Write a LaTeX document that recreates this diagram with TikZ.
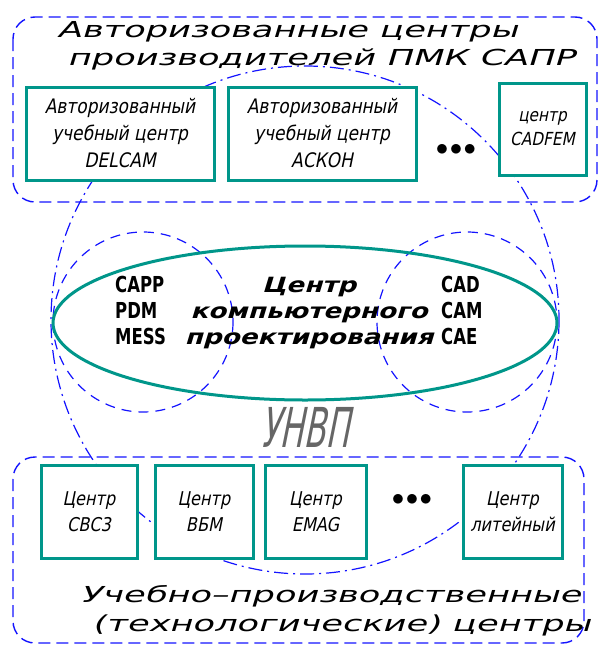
\documentclass[tikz,border=0pt]{standalone}
\usepackage{fontspec}
\newfontfamily\gosttitle[FakeSlant=0.3,FakeStretch=1.6]{DejaVu Sans}
\newfontfamily\gostbox[FakeSlant=0.2,FakeStretch=0.85]{DejaVu Sans}
\newfontfamily\gostbold[FakeStretch=0.75]{DejaVu Sans}
\newfontfamily\gostcentre[FakeSlant=0.3,FakeStretch=1.25]{DejaVu Sans}
\newfontfamily\gostgray[FakeSlant=0.2,FakeStretch=0.58]{DejaVu Sans}
\usetikzlibrary{positioning}

\definecolor{boxteal}{RGB}{0,150,138}
\definecolor{dashblue}{RGB}{20,20,255}

\tikzset{
  centrebox/.style={draw=boxteal,line width=3pt,fill=white,inner sep=0pt,align=center,
    font=\gostbox\fontsize{20}{27}\selectfont},
  groupframe/.style={draw=dashblue,line width=1.4pt,dash pattern=on 12pt off 6pt,rounded corners=22pt},
  zonecircle/.style={draw=dashblue,line width=1.2pt,dash pattern=on 10pt off 7pt},
  unvpcircle/.style={draw=dashblue,line width=1.2pt,dash pattern=on 14pt off 5pt on 2pt off 5pt},
  titletext/.style={font=\gosttitle\fontsize{22}{27}\selectfont,inner sep=0pt,anchor=base west},
  systext/.style={font=\gostbold\bfseries\fontsize{22}{26}\selectfont,inner sep=0pt,anchor=base west,align=left},
}

\begin{document}
\begin{tikzpicture}[x=1pt,y=-1pt]
\useasboundingbox (0,0) rectangle (599,645);

% frames of the two groups
\draw[groupframe] (13,17) rectangle (597,202);
\draw[groupframe] (13,457) rectangle (584,643);

% zones
\draw[unvpcircle] (305,320) circle [radius=254];
\draw[zonecircle] (143,322) circle [radius=90];
\draw[zonecircle] (467,322) circle [radius=90];
\draw[draw=boxteal,line width=3pt] (305,323) ellipse [x radius=252,y radius=77];

% upper group
\node[titletext] (topt1) at (57,37) {Авторизованные центры};
\node[titletext] (topt2) at (67,65) {производителей ПМК САПР};
\node[centrebox,minimum width=188pt,minimum height=93pt] (delcam) at (120,133.5)
  {Авторизованный\\учебный центр\\DELCAM};
\node[centrebox,minimum width=188pt,minimum height=93pt] (ascon) at (322,133.5)
  {Авторизованный\\учебный центр\\АСКОН};
\node[font=\fontsize{30}{30}\selectfont] (topdots) at (456,150) {$\bullet\!\bullet\!\bullet$};
\node[centrebox,minimum width=87pt,minimum height=92pt,font=\gostbox\fontsize{18}{24}\selectfont] (cadfem) at (542.5,129)
  {центр\\CADFEM};

% centre (base = last line)
\node[systext] (sysl) at (115,344) {CAPP\\PDM\\MESS};
\node[systext] (sysr) at (441,344) {CAD\\CAM\\CAE};
\node[font=\gostcentre\bfseries\fontsize{21}{26}\selectfont,inner sep=0pt,anchor=base,align=center] (ckp) at (309,344)
  {Центр\\компьютерного\\проектирования};
\node[font=\gostgray\fontsize{55}{55}\selectfont,text=black!60,inner sep=0pt,anchor=base] (unvp) at (305,447) {УНВП};

% lower group
\node[centrebox,minimum width=96pt,minimum height=93pt,font=\gostbox\fontsize{19}{26}\selectfont] (svs) at (89,511.5)
  {Центр\\СВС3};
\node[centrebox,minimum width=98pt,minimum height=93pt,font=\gostbox\fontsize{19}{26}\selectfont] (vbm) at (204,511.5)
  {Центр\\ВБМ};
\node[centrebox,minimum width=101pt,minimum height=93pt,font=\gostbox\fontsize{19}{26}\selectfont] (emag) at (315.5,511.5)
  {Центр\\EMAG};
\node[font=\fontsize{30}{30}\selectfont] (botdots) at (412,500) {$\bullet\!\bullet\!\bullet$};
\node[centrebox,minimum width=99pt,minimum height=93pt,font=\gostbox\fontsize{19}{26}\selectfont] (foundry) at (512.5,511.5)
  {Центр\\литейный};
\node[titletext] (bott1) at (80,602) {Учебно–производственные};
\node[titletext] (bott2) at (92,631) {(технологические) центры};

\end{tikzpicture}
\end{document}
